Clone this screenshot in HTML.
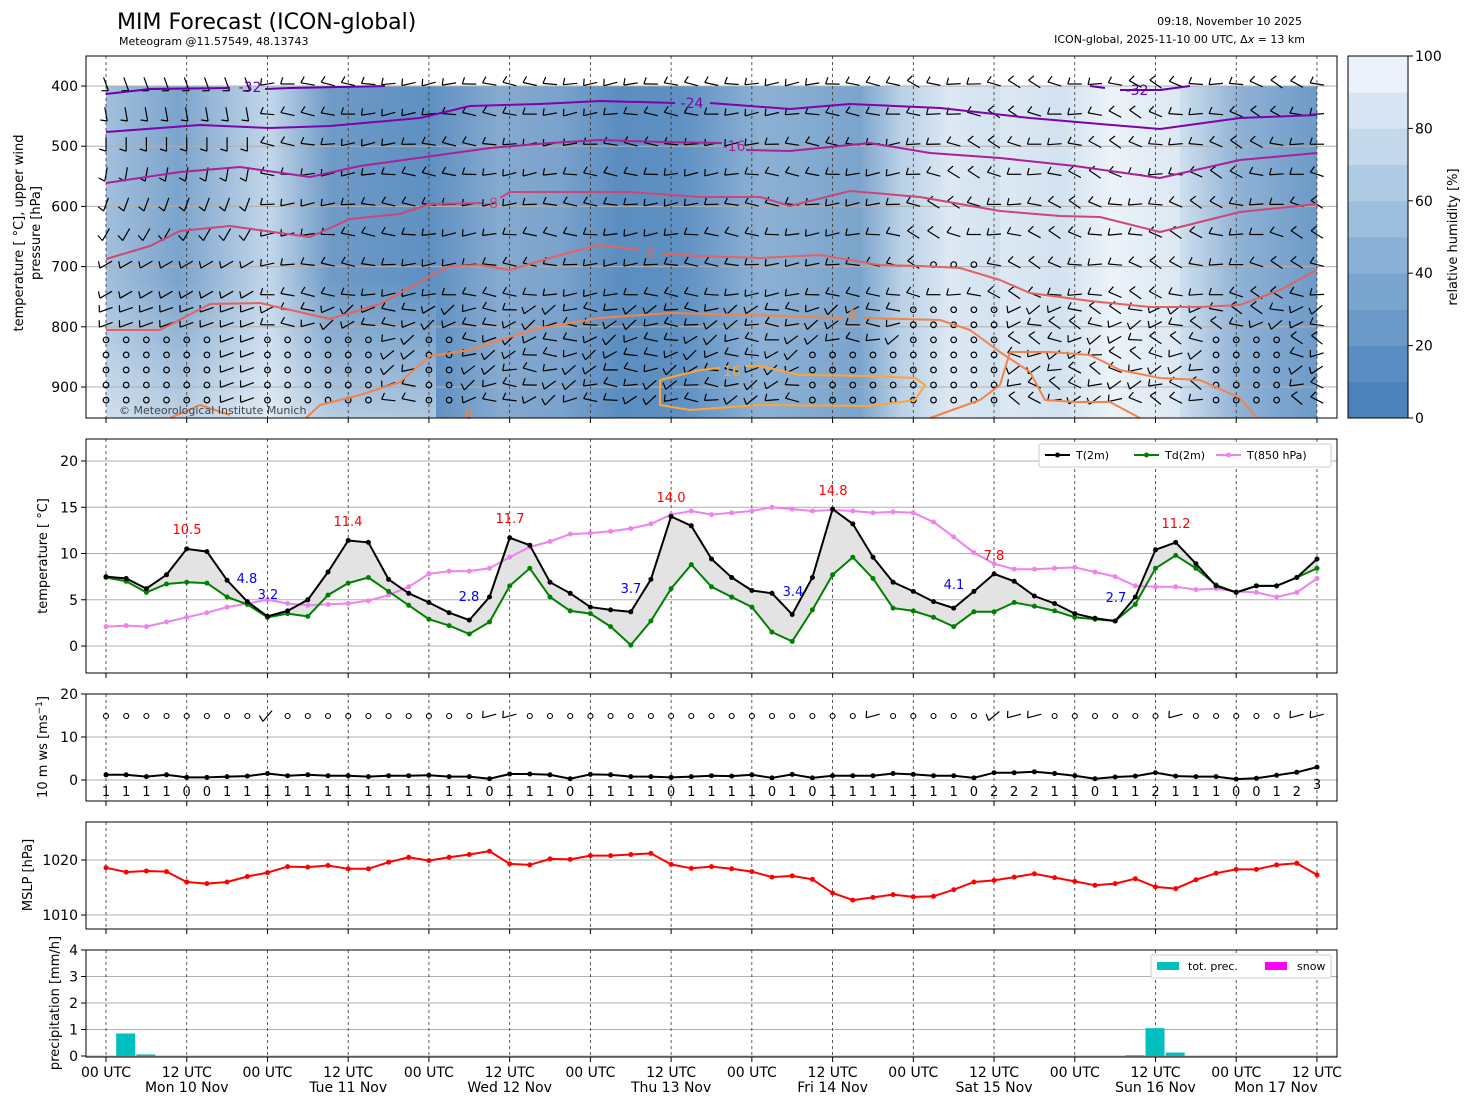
<!DOCTYPE html>
<html><head><meta charset="utf-8"><style>
html,body{margin:0;padding:0;background:#fff}
svg{display:block;font-family:"DejaVu Sans","Liberation Sans",sans-serif}
</style></head><body>
<svg id="s" width="1469" height="1105" viewBox="0 0 1469 1105" xmlns="http://www.w3.org/2000/svg">
<defs>
<linearGradient id="hum" x1="106" x2="1317" y1="0" y2="0" gradientUnits="userSpaceOnUse">
<stop offset="0" stop-color="#a3c0dd"/>
<stop offset="0.06" stop-color="#7ba4cc"/>
<stop offset="0.135" stop-color="#c3d7ea"/>
<stop offset="0.185" stop-color="#6f9bc7"/>
<stop offset="0.268" stop-color="#5e90c2"/>
<stop offset="0.325" stop-color="#86aad0"/>
<stop offset="0.375" stop-color="#7aa2cc"/>
<stop offset="0.424" stop-color="#5b8dc0"/>
<stop offset="0.474" stop-color="#5e90c2"/>
<stop offset="0.54" stop-color="#8db1d5"/>
<stop offset="0.622" stop-color="#7ba4cc"/>
<stop offset="0.656" stop-color="#b8d0e6"/>
<stop offset="0.697" stop-color="#dde8f3"/>
<stop offset="0.738" stop-color="#d2e2f0"/>
<stop offset="0.788" stop-color="#c4d8eb"/>
<stop offset="0.829" stop-color="#e6eff7"/>
<stop offset="0.886" stop-color="#d0e0ef"/>
<stop offset="0.936" stop-color="#8fb2d6"/>
<stop offset="1" stop-color="#6d9ac7"/>
</linearGradient>
<linearGradient id="low" x1="0" x2="0" y1="280" y2="418" gradientUnits="userSpaceOnUse">
<stop offset="0" stop-color="#fff" stop-opacity="0"/>
<stop offset="1" stop-color="#fff" stop-opacity="0.5"/>
</linearGradient>
</defs>
<g id="g"></g>
<text x="117" y="29" font-size="22">MIM Forecast (ICON-global)</text>
<text x="119" y="45" font-size="11">Meteogram @11.57549, 48.13743</text>
<text x="1302" y="25" font-size="11" text-anchor="end">09:18, November 10 2025</text>
<text x="1305" y="43" font-size="11" text-anchor="end">ICON-global, 2025-11-10 00 UTC, Δ<tspan font-style="italic">x</tspan> = 13 km</text>
</svg>
<script>
var g=document.getElementById('g');var h='';
function X(i){return 106+i*20.183;}
function add(s){h+=s;}
function pl(pts,col,w,extra){add('<polyline fill="none" stroke="'+col+'" stroke-width="'+w+'" points="'+pts.map(function(p){return p[0]+','+p[1]}).join(' ')+'" '+(extra||'')+'/>');}
function txt(x,y,t,sz,col,anc,extra){add('<text x="'+x+'" y="'+y+'" font-size="'+sz+'" fill="'+(col||'#000')+'" text-anchor="'+(anc||'middle')+'" '+(extra||'')+'>'+t+'</text>');}
var vx=[];for(var i=0;i<=15;i++)vx.push(106+i*80.73);
// ---- panel 1
var P=function(p){return 86+(p-400)*0.602;};
add('<rect x="106" y="86" width="1211" height="332" fill="url(#hum)"/>');
add('<rect x="106" y="280" width="330" height="138" fill="url(#low)"/>');
add('<rect x="1000" y="86" width="180" height="332" fill="#fff" opacity="0.25"/>');
[400,500,600,700,800,900].forEach(function(p){add('<line x1="86" x2="1337" y1="'+P(p)+'" y2="'+P(p)+'" stroke="#b0b0b0" stroke-width="1"/>');});
vx.forEach(function(x){add('<line x1="'+x+'" x2="'+x+'" y1="56" y2="418" stroke="#333" stroke-width="0.8" stroke-dasharray="3,3"/>');});
var levels=[400,450,500,550,600,650,700,750,775,800,825,850,875,900,925];
function bar(x,y,ang,calm){
 if(calm){add('<circle cx="'+x+'" cy="'+y+'" r="2.8" fill="none" stroke="#000" stroke-width="1.2"/>');return;}
 var a=ang*Math.PI/180,l=14;var x1=x-Math.cos(a)*l/2,y1=y-Math.sin(a)*l/2,x2=x+Math.cos(a)*l/2,y2=y+Math.sin(a)*l/2;
 var b=a-Math.PI/2.5;
 add('<line x1="'+x1.toFixed(1)+'" y1="'+y1.toFixed(1)+'" x2="'+x2.toFixed(1)+'" y2="'+y2.toFixed(1)+'" stroke="#000" stroke-width="1.2"/>');
 add('<line x1="'+x1.toFixed(1)+'" y1="'+y1.toFixed(1)+'" x2="'+(x1+Math.cos(b)*7).toFixed(1)+'" y2="'+(y1+Math.sin(b)*7).toFixed(1)+'" stroke="#000" stroke-width="1.2"/>');
}
for(var i=0;i<61;i++){var x=X(i);
 levels.forEach(function(p,k){var y=P(p)-2;
  var calm=false,ang=0;
  if(i<8){ang=(k<6)?-110+k*10:(k<8?-30:-20);}
  else if(i<40){ang=(k<8)?0+(Math.sin(i*0.7+k)*15):(Math.sin(i*1.3+k)*30-15);}
  else {ang=(k<8)?15+Math.sin(i+k)*20:(Math.sin(i*0.9+k*1.7)*40);}
  if(p>=800&&i<18&&(i%8<6)) calm=(p>=825);
  if(p>=850&&i>=35&&i<=44) calm=true;
  if(p>=775&&i>=40&&i<=44) calm=true;
  if(p>=825&&i>=55&&i<=58) calm=true;
  if(p==700&&(i==41||i==42||i==43)) calm=true;
  bar(x,y,ang,calm);
 });}
function C(pts,col,w){pl(pts,col,w||2,'stroke-linejoin="round"');}
C([[106,94],[150,89],[230,88]],'#6a00a8');C([[265,89],[290,88],[385,86]],'#6a00a8');
C([[1120,90],[1160,90],[1190,86]],'#6a00a8');C([[1090,86],[1105,88]],'#6a00a8');
C([[106,132],[200,125],[270,128],[330,126],[420,118],[470,106],[540,104],[600,101],[675,103]],'#7e03a8');
C([[710,103],[790,109],[850,104],[940,108],[1030,118],[1100,124],[1160,129],[1240,118],[1317,115]],'#7e03a8');
C([[106,183],[180,172],[240,167],[310,177],[360,166],[490,148],[550,143],[600,140],[660,142],[722,143]],'#a82296');
C([[746,150],[790,151],[870,143],[930,153],[1000,158],[1075,166],[1160,178],[1240,160],[1317,153]],'#a82296');
C([[106,259],[150,246],[180,231],[230,226],[280,233],[310,237],[350,219],[400,214],[430,204],[482,203]],'#cb4778');
C([[500,198],[510,192],[630,192],[700,197],[760,197],[790,206],[850,191],[920,197],[1000,211],[1060,216],[1100,217],[1160,232],[1240,212],[1317,204]],'#cb4778');
C([[106,330],[160,330],[210,304],[260,303],[330,319],[380,304],[420,282],[450,266],[480,265],[510,270],[560,255],[600,245],[640,250]],'#e16462');
C([[662,254],[700,256],[760,258],[820,255],[880,265],[920,266],[960,268],[1000,280],[1030,293],[1090,301],[1150,307],[1200,307],[1240,305],[1280,290],[1317,270]],'#e16462');
C([[306,418],[320,405],[360,395],[400,382],[430,356],[470,350],[500,340],[540,328],[600,318],[670,313],[750,315],[843,318]],'#f2844b');
C([[863,318],[940,320],[970,330],[1000,352],[1030,372],[1045,400],[1075,402],[1110,402],[1140,418]],'#f2844b');
C([[1000,385],[1010,352],[1050,352],[1090,355],[1120,370],[1160,378],[1200,380],[1240,398],[1257,418]],'#f2844b');
C([[930,418],[980,400],[1000,385]],'#f2844b');C([[170,418],[200,405],[230,415]],'#f2844b');
C([[660,380],[700,370],[720,368]],'#fca636');C([[745,366],[760,366],[800,375],[870,376],[915,378],[925,385],[915,400],[870,406],[760,405],[690,410],[660,405],[660,380]],'#fca636');
txt(250,92,'-32',14,'#6a00a8');txt(1137,95,'-32',14,'#6a00a8');txt(692,108,'-24',14,'#7e03a8');
txt(734,151,'-16',14,'#a82296');txt(491,208,'-8',14,'#cb4778');txt(651,258,'0',14,'#e16462');
txt(853,320,'8',14,'#f2844b');txt(469,419,'8',14,'#f2844b');txt(732,376,'16',14,'#fca636');
txt(119,414,'© Meteorological Institute Munich',11,'#444','start');
add('<rect x="86" y="56" width="1251" height="362" fill="none" stroke="#000" stroke-width="1"/>');
[400,500,600,700,800,900].forEach(function(p){add('<line x1="81" x2="86" y1="'+P(p)+'" y2="'+P(p)+'" stroke="#000"/>');txt(78,P(p)+5,p,14,'#000','end');});
vx.forEach(function(x){add('<line x1="'+x+'" x2="'+x+'" y1="418" y2="423" stroke="#000"/>');});
txt(0,0,'temperature [ °C], upper wind',13,'#000','middle','transform="translate(23,233) rotate(-90)"');
txt(0,0,'pressure [hPa]',13,'#000','middle','transform="translate(40,233) rotate(-90)"');
for(var k=0;k<10;k++){var c=['#4c82ba','#5a8dc1','#6a99c8','#7aa5cf','#8bb1d6','#9dbedd','#b0cbe4','#c3d8eb','#d7e5f2','#ebf2f9'][k];
 add('<rect x="1348" y="'+(418-(k+1)*36.2)+'" width="60" height="36.6" fill="'+c+'"/>');}
add('<rect x="1348" y="56" width="60" height="362" fill="none" stroke="#000"/>');
[0,20,40,60,80,100].forEach(function(v){var y=418-v*3.62;add('<line x1="1408" x2="1413" y1="'+y+'" y2="'+y+'" stroke="#000"/>');txt(1415,y+5,v,14,'#000','start');});
txt(0,0,'relative humidity [%]',13,'#000','middle','transform="translate(1457,237) rotate(-90)"');
// ---- panel 2
var T=[7.5,7.3,6.2,7.7,10.5,10.2,7.1,4.8,3.2,3.8,5.0,8.0,11.4,11.2,7.2,5.7,4.7,3.6,2.8,5.3,11.7,10.9,6.9,5.7,4.2,3.9,3.7,7.2,14.0,13.0,9.4,7.4,6.0,5.7,3.4,7.4,14.8,13.2,9.6,6.9,5.9,4.8,4.1,5.9,7.8,7.0,5.4,4.6,3.5,3.0,2.7,5.3,10.4,11.2,8.9,6.5,5.8,6.5,6.5,7.4,9.4];
var D=[7.4,7.0,5.8,6.7,6.9,6.8,5.3,4.5,3.1,3.5,3.2,5.5,6.8,7.4,5.9,4.4,2.9,2.2,1.3,2.6,6.5,8.4,5.3,3.8,3.5,2.1,0.1,2.7,6.2,8.8,6.4,5.3,4.2,1.5,0.5,3.9,7.7,9.6,7.3,4.1,3.8,3.1,2.1,3.7,3.7,4.7,4.3,3.8,3.1,2.9,2.7,4.5,8.4,9.8,8.4,6.6,5.8,6.5,6.5,7.4,8.4];
var T8=[2.1,2.2,2.1,2.6,3.1,3.6,4.2,4.6,5.0,4.6,4.4,4.5,4.6,4.9,5.5,6.4,7.8,8.1,8.1,8.4,9.6,10.7,11.3,12.1,12.2,12.4,12.7,13.2,14.2,14.6,14.2,14.4,14.6,15.0,14.8,14.6,14.7,14.6,14.4,14.5,14.4,13.4,11.8,10.1,8.9,8.3,8.3,8.4,8.5,8.0,7.5,6.5,6.4,6.4,6.1,6.2,5.9,5.8,5.3,5.8,7.3];
function Yt(v){return 646-v*9.25;}
[0,5,10,15,20].forEach(function(v){add('<line x1="86" x2="1337" y1="'+Yt(v)+'" y2="'+Yt(v)+'" stroke="#b0b0b0"/>');});
vx.forEach(function(x){add('<line x1="'+x+'" x2="'+x+'" y1="439" y2="673" stroke="#333" stroke-width="0.8" stroke-dasharray="3,3"/>');});
var poly=[];for(var i=0;i<61;i++)poly.push([X(i),Yt(T[i])]);for(var i=60;i>=0;i--)poly.push([X(i),Yt(D[i])]);
add('<polygon fill="#e3e3e3" stroke="#888" stroke-width="0.5" points="'+poly.map(function(p){return p.join(',')}).join(' ')+'"/>');
function series(arr,f,col,w){var pts=arr.map(function(v,i){return [X(i).toFixed(1),f(v).toFixed(1)]});pl(pts,col,w);pts.forEach(function(p){add('<circle cx="'+p[0]+'" cy="'+p[1]+'" r="2.5" fill="'+col+'"/>');});}
series(T8,Yt,'#ee82ee',2);series(D,Yt,'#008000',2);series(T,Yt,'#000',2);
[[187,534,'10.5'],[348,526,'11.4'],[510,523,'11.7'],[671,502,'14.0'],[833,495,'14.8'],[994,560,'7.8'],[1176,528,'11.2']].forEach(function(a){txt(a[0],a[1],a[2],13,'#f00');});
[[247,583,'4.8'],[268,599,'3.2'],[469,601,'2.8'],[631,593,'3.7'],[793,596,'3.4'],[954,589,'4.1'],[1116,602,'2.7']].forEach(function(a){txt(a[0],a[1],a[2],13,'#00f');});
add('<rect x="1039" y="444" width="292" height="23" fill="#fff" stroke="#ccc" rx="2"/>');
[[1045,'#000','T(2m)'],[1134,'#008000','Td(2m)'],[1216,'#ee82ee','T(850 hPa)']].forEach(function(a){add('<line x1="'+a[0]+'" x2="'+(a[0]+25)+'" y1="455" y2="455" stroke="'+a[1]+'" stroke-width="2"/><circle cx="'+(a[0]+12.5)+'" cy="455" r="2.5" fill="'+a[1]+'"/>');txt(a[0]+31,459,a[2],11,'#000','start');});
add('<rect x="86" y="439" width="1251" height="234" fill="none" stroke="#000"/>');
[0,5,10,15,20].forEach(function(v){add('<line x1="81" x2="86" y1="'+Yt(v)+'" y2="'+Yt(v)+'" stroke="#000"/>');txt(78,Yt(v)+5,v,14,'#000','end');});
vx.forEach(function(x){add('<line x1="'+x+'" x2="'+x+'" y1="673" y2="678" stroke="#000"/>');});
txt(0,0,'temperature [ °C]',13,'#000','middle','transform="translate(47,556) rotate(-90)"');
// ---- panel 3
var W=[1.2,1.2,0.8,1.2,0.6,0.6,0.8,0.9,1.5,1.0,1.2,1.0,1.0,0.8,1.0,1.0,1.1,0.8,0.8,0.3,1.4,1.4,1.2,0.3,1.3,1.2,0.8,0.8,0.6,0.8,1.0,0.9,1.2,0.5,1.3,0.5,1.0,1.0,1.0,1.5,1.3,1.0,1.0,0.5,1.7,1.7,1.9,1.5,1.0,0.3,0.7,0.9,1.7,0.9,0.8,0.8,0.2,0.4,1.1,1.8,3.0];
var WL=[1,1,1,1,0,0,1,1,1,1,1,1,1,1,1,1,1,1,1,0,1,1,1,0,1,1,1,1,0,1,1,1,1,0,1,0,1,1,1,1,1,1,1,0,2,2,2,1,1,0,1,1,2,1,1,1,0,0,1,2,3];
function Yw(v){return 780-v*4.3;}
[0,10,20].forEach(function(v){add('<line x1="86" x2="1337" y1="'+Yw(v)+'" y2="'+Yw(v)+'" stroke="#b0b0b0"/>');});
vx.forEach(function(x){add('<line x1="'+x+'" x2="'+x+'" y1="694" y2="801" stroke="#333" stroke-width="0.8" stroke-dasharray="3,3"/>');});
series(W,Yw,'#000',2);
for(var i=0;i<61;i++){var x=X(i);
 if([8,19,20,38,44,45,46,53,59,60].indexOf(i)>=0){var a=(i==8)?-50:(i==44?-40:-15);bar(x,716,a,false);}
 else add('<circle cx="'+x.toFixed(1)+'" cy="716" r="2.5" fill="none" stroke="#000" stroke-width="1.1"/>');
 var yy=(i==60)?789:796;txt(x.toFixed(1),yy,WL[i],13,'#000');}
add('<rect x="86" y="694" width="1251" height="107" fill="none" stroke="#000"/>');
[0,10,20].forEach(function(v){add('<line x1="81" x2="86" y1="'+Yw(v)+'" y2="'+Yw(v)+'" stroke="#000"/>');txt(78,Yw(v)+5,v,14,'#000','end');});
vx.forEach(function(x){add('<line x1="'+x+'" x2="'+x+'" y1="801" y2="806" stroke="#000"/>');});
txt(0,0,'10 m ws [ms<tspan dy="-5" font-size="9">−1</tspan><tspan dy="5">]</tspan>',13,'#000','middle','transform="translate(47,747) rotate(-90)"');
// ---- panel 4
var M=[1018.6,1017.8,1018.0,1017.9,1016.0,1015.7,1016.0,1017.0,1017.7,1018.8,1018.7,1019.0,1018.4,1018.4,1019.6,1020.5,1019.9,1020.5,1021.0,1021.6,1019.3,1019.1,1020.2,1020.1,1020.8,1020.8,1021.0,1021.2,1019.2,1018.5,1018.8,1018.4,1017.9,1016.9,1017.1,1016.5,1014.0,1012.7,1013.2,1013.7,1013.3,1013.4,1014.6,1016.0,1016.3,1016.9,1017.5,1016.8,1016.1,1015.4,1015.7,1016.6,1015.1,1014.8,1016.4,1017.6,1018.3,1018.3,1019.1,1019.4,1017.3];
function Ym(v){return 860-(v-1020)*5.5;}
[1010,1020].forEach(function(v){add('<line x1="86" x2="1337" y1="'+Ym(v)+'" y2="'+Ym(v)+'" stroke="#b0b0b0"/>');});
vx.forEach(function(x){add('<line x1="'+x+'" x2="'+x+'" y1="822" y2="929" stroke="#333" stroke-width="0.8" stroke-dasharray="3,3"/>');});
series(M,Ym,'#f00',2);
add('<rect x="86" y="822" width="1251" height="107" fill="none" stroke="#000"/>');
[1010,1020].forEach(function(v){add('<line x1="81" x2="86" y1="'+Ym(v)+'" y2="'+Ym(v)+'" stroke="#000"/>');txt(78,Ym(v)+5,v,14,'#000','end');});
vx.forEach(function(x){add('<line x1="'+x+'" x2="'+x+'" y1="929" y2="934" stroke="#000"/>');});
txt(0,0,'MSLP [hPa]',13,'#000','middle','transform="translate(32,875) rotate(-90)"');
// ---- panel 5
function Yp(v){return 1056-v*26.5;}
[0,1,2,3,4].forEach(function(v){add('<line x1="86" x2="1337" y1="'+Yp(v)+'" y2="'+Yp(v)+'" stroke="#b0b0b0"/>');});
vx.forEach(function(x){add('<line x1="'+x+'" x2="'+x+'" y1="950" y2="1057" stroke="#333" stroke-width="0.8" stroke-dasharray="3,3"/>');});
[[1,0.85],[2,0.06],[51,0.03],[52,1.05],[53,0.13]].forEach(function(a){var x=X(a[0]);add('<rect x="'+(x-10)+'" y="'+Yp(a[1])+'" width="19" height="'+(a[1]*26.5)+'" fill="#00bfbf"/>');});
add('<rect x="1151" y="955" width="180" height="23" fill="#fff" stroke="#ccc" rx="2"/>');
add('<rect x="1157" y="962" width="22" height="8" fill="#00bfbf"/><rect x="1265" y="962" width="22" height="8" fill="#ff00ff"/>');
txt(1188,970,'tot. prec.',11,'#000','start');txt(1297,970,'snow',11,'#000','start');
add('<rect x="86" y="950" width="1251" height="107" fill="none" stroke="#000"/>');
[0,1,2,3,4].forEach(function(v){add('<line x1="81" x2="86" y1="'+Yp(v)+'" y2="'+Yp(v)+'" stroke="#000"/>');txt(78,Yp(v)+5,v,14,'#000','end');});
var days=['Mon 10 Nov','Tue 11 Nov','Wed 12 Nov','Thu 13 Nov','Fri 14 Nov','Sat 15 Nov','Sun 16 Nov','Mon 17 Nov'];
vx.forEach(function(x,i){add('<line x1="'+x+'" x2="'+x+'" y1="1057" y2="1062" stroke="#000"/>');txt(x,1077,(i%2?'12 UTC':'00 UTC'),14);if(i%2&&i<15)txt(x,1092,days[(i-1)/2],14);});
txt(1276,1092,'Mon 17 Nov',14);
txt(0,0,'precipitation [mm/h]',13,'#000','middle','transform="translate(59,1003) rotate(-90)"');
g.innerHTML=h;
</script>
</body></html>
